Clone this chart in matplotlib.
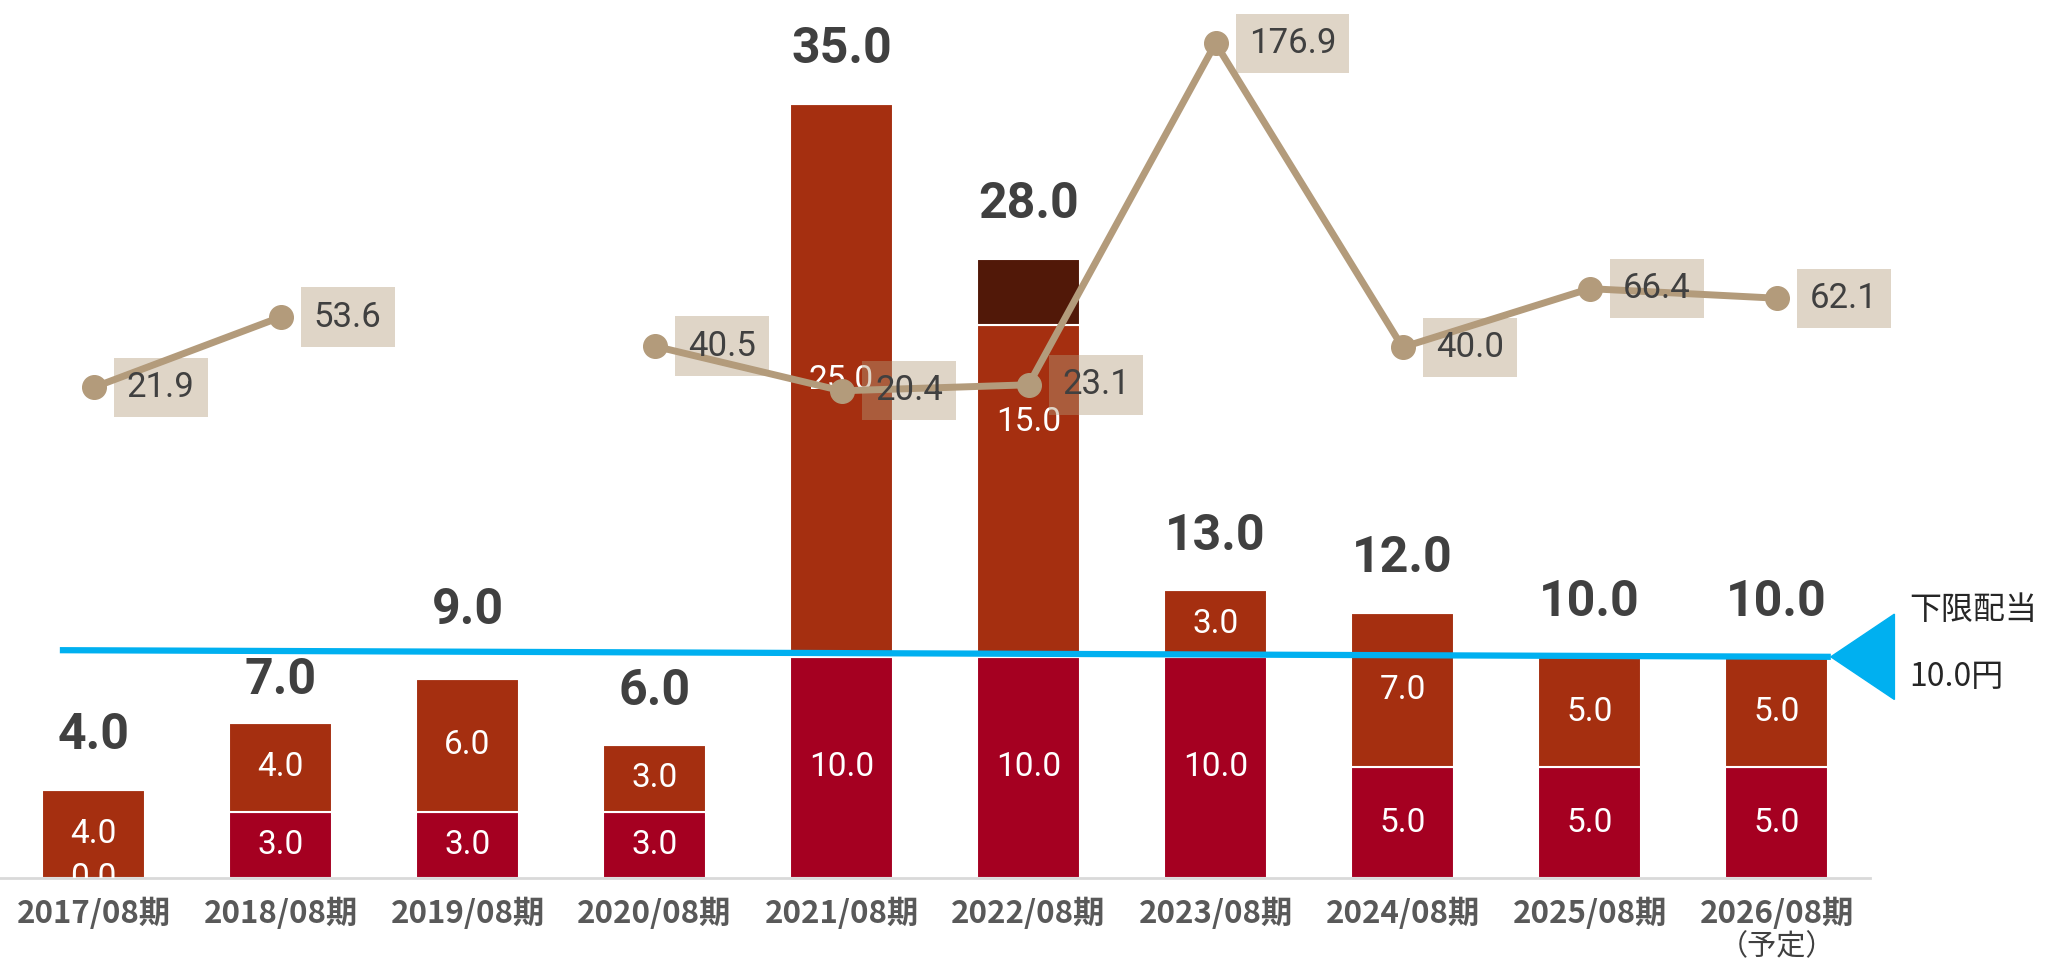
import numpy as np
import matplotlib.pyplot as plt
from matplotlib.patches import Polygon

# data
periods = ["2017/08期", "2018/08期", "2019/08期", "2020/08期", "2021/08期",
           "2022/08期", "2023/08期", "2024/08期", "2025/08期", "2026/08期"]
base_div = [0.0, 3.0, 3.0, 3.0, 10.0, 10.0, 10.0, 5.0, 5.0, 5.0]
extra_div = [4.0, 4.0, 6.0, 3.0, 25.0, 15.0, 3.0, 7.0, 5.0, 5.0]
special_div = [0, 0, 0, 0, 0, 3.0, 0, 0, 0, 0]
payout = [21.9, 53.6, np.nan, 40.5, 20.4, 23.1, 176.9, 40.0, 66.4, 62.1]
floor_div = 10.0

C_BASE = "#A50021"
C_EXTRA = "#A52F10"
C_SPECIAL = "#511808"
C_LINE = "#B39B7B"
C_BLUE = "#00B0F0"

NUM = ["Roboto", "DejaVu Sans"]
JP = ["Noto Sans CJK JP", "DejaVu Sans"]

fig = plt.figure(figsize=(20.51, 9.61), dpi=100)
ax = fig.add_axes([0.0, 0.0864, 0.9118, 0.9136])
x = np.arange(len(periods))
w = 0.55

base = np.array(base_div)
extra = np.array(extra_div)
special = np.array(special_div)
total = base + extra + special

ax.bar(x, base, w, color=C_BASE, edgecolor="white", linewidth=1.5, zorder=2)
ax.bar(x, extra, w, bottom=base, color=C_EXTRA, edgecolor="white", linewidth=1.5, zorder=2)
ax.bar(x, special, w, bottom=base + extra, color=C_SPECIAL, edgecolor="white", linewidth=1.5, zorder=2)

# total labels sit ~39pt above the bar; two are nudged off the blue line
total_offset = [39, 31, 49, 39, 39, 39, 39, 39, 39, 39]

for i in x:
    ax.text(i, base[i] / 2, f"{base[i]:.1f}", ha="center", va="center",
            color="white", fontsize=24, family=NUM, zorder=3, clip_on=True)
    ym = base[i] + extra[i] / 2
    if special[i] > 0:
        ym += 3.1
    ax.text(i, ym, f"{extra[i]:.1f}", ha="center", va="center",
            color="white", fontsize=24, family=NUM, zorder=3)
    ax.annotate(f"{total[i]:.1f}", (i, total[i]), xytext=(0, total_offset[i]),
                textcoords="offset points", ha="center", va="center", fontsize=36,
                fontweight="bold", color="#404040", family=NUM)

ax.set_xlim(-0.5, 9.5)
ax.set_ylim(0, 39.7)
ax.set_xticks(x)
ax.set_xticklabels(periods, fontsize=22.5, fontweight="bold", color="#595959", family=JP)
ax.tick_params(axis="x", length=0, pad=14)
ax.set_yticks([])
for s in ["top", "right", "left"]:
    ax.spines[s].set_visible(False)
ax.spines["bottom"].set_color("#D9D9D9")
ax.spines["bottom"].set_linewidth(2)
ax.text(9, -0.079, "（予定）", transform=ax.get_xaxis_transform(), ha="center", va="center",
        fontsize=21, color="#404040", family=JP)

# floor dividend marker
ax.plot([-0.18, 9.29], [floor_div + 0.3, floor_div], color=C_BLUE, lw=4.5, zorder=4,
        solid_capstyle="butt", clip_on=False)
tri = Polygon([[9.29, floor_div], [9.63, floor_div + 1.93], [9.63, floor_div - 1.93]],
              closed=True, color=C_BLUE, clip_on=False, zorder=4)
ax.add_patch(tri)
ax.text(9.71, floor_div + 2.1, "下限配当", ha="left", va="center", fontsize=23,
        color="#262626", family=JP, clip_on=False)
ax.text(9.71, floor_div - 0.9, "10.0円", ha="left", va="center", fontsize=23,
        color="#262626", family=JP, clip_on=False)

# payout ratio line
ax2 = ax.twinx()
ax2.plot(x, payout, color=C_LINE, lw=5, marker="o", markersize=17, zorder=5)
ax2.set_ylim(-199, 196.4)
ax2.set_yticks([])
for s in ax2.spines.values():
    s.set_visible(False)
for i, v in enumerate(payout):
    if np.isnan(v):
        continue
    ax2.annotate(f"{v:.1f}", (i, v), xytext=(24, 0), textcoords="offset points",
                 ha="left", va="center", fontsize=25, color="#404040", family=NUM,
                 bbox=dict(boxstyle="square,pad=0.38", fc=C_LINE, ec="none", alpha=0.42),
                 zorder=6)

fig.savefig("out.png", dpi=100)
